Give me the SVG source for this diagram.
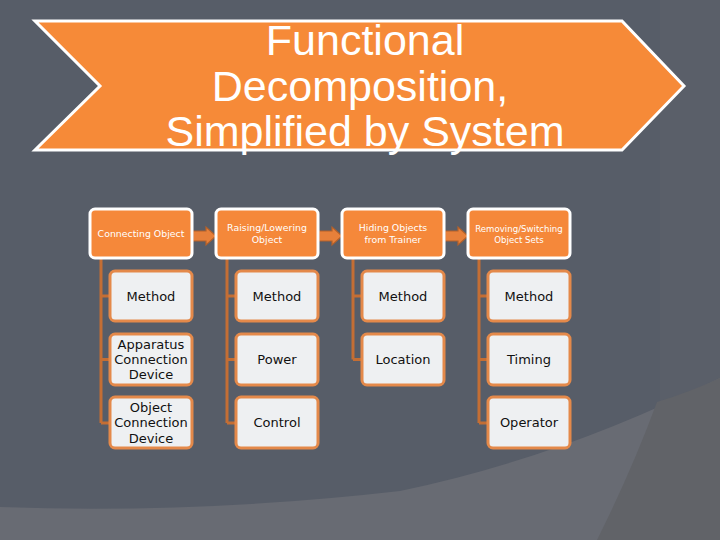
<svg xmlns="http://www.w3.org/2000/svg" width="720" height="540" viewBox="0 0 720 540">
  <style>
    .top { fill: #f5883a; stroke: #ffffff; stroke-width: 3; }
    .sub { fill: #eef0f2; stroke: #e4894a; stroke-width: 3; }
    .ttxt { font-family: "DejaVu Sans", "Liberation Sans", sans-serif; fill: #ffffff; text-anchor: middle; }
    .stxt { font-family: "DejaVu Sans", "Liberation Sans", sans-serif; fill: #111111; font-size: 13px; text-anchor: middle; }
    .conn { stroke: #c46e34; stroke-width: 3; fill: none; }
    .arr { fill: #e7803a; stroke: #b4612a; stroke-width: 1.2; }
  </style>
  <!-- background -->
  <rect x="0" y="0" width="720" height="540" fill="#575d68"/>
  <rect x="660" y="0" width="60" height="540" fill="#5a5f69"/>
  <path d="M0,507 Q200,514 400,491 Q560,458 720,378 L720,540 L0,540 Z" fill="#686b73"/>
  <path d="M657,402 Q632,470 597,540 L720,540 L720,378 Q690,392 657,402 Z" fill="#616368"/>

  <!-- title chevron -->
  <g id="title">
    <polygon points="35,21 622,21 684,86 622,150 35,150 100,86" fill="#f68a38" stroke="#ffffff" stroke-width="3" stroke-linejoin="miter"/>
    <g font-family="Liberation Sans, Arial, sans-serif" font-size="43" fill="#ffffff" text-anchor="middle">
      <text x="365" y="55">Functional</text>
      <text x="360" y="101">Decomposition,</text>
      <text x="365" y="146">Simplified by System</text>
    </g>
  </g>

  <!-- connectors -->
  <g id="connectors">
    <path class="conn" d="M101,258 V423 M101,296 H110 M101,359.5 H110 M101,423 H110"/>
    <path class="conn" d="M227,258 V423 M227,296 H236 M227,359.5 H236 M227,423 H236"/>
    <path class="conn" d="M353,258 V359.5 M353,296 H362 M353,359.5 H362"/>
    <path class="conn" d="M479,258 V423 M479,296 H488 M479,359.5 H488 M479,423 H488"/>
    <polygon class="arr" points="193,231 206,231 206,227 216,236 206,245 206,241 193,241"/>
    <polygon class="arr" points="319,231 332,231 332,227 342,236 332,245 332,241 319,241"/>
    <polygon class="arr" points="445,231 458,231 458,227 468,236 458,245 458,241 445,241"/>
  </g>

  <!-- top nodes -->
  <g id="n-connecting">
    <rect class="top" x="90" y="209" width="102" height="49" rx="5"/>
    <text class="ttxt" x="141" y="237" font-size="9.4">Connecting Object</text>
  </g>
  <g id="n-raising">
    <rect class="top" x="216" y="209" width="102" height="49" rx="5"/>
    <text class="ttxt" x="267" y="231" font-size="9.4">Raising/Lowering</text>
    <text class="ttxt" x="267" y="243" font-size="9.4">Object</text>
  </g>
  <g id="n-hiding">
    <rect class="top" x="342" y="209" width="102" height="49" rx="5"/>
    <text class="ttxt" x="393" y="231" font-size="9.4">Hiding Objects</text>
    <text class="ttxt" x="393" y="243" font-size="9.4">from Trainer</text>
  </g>
  <g id="n-removing">
    <rect class="top" x="468" y="209" width="102" height="49" rx="5"/>
    <text class="ttxt" x="519" y="231.5" font-size="8.6">Removing/Switching</text>
    <text class="ttxt" x="519" y="242.5" font-size="8.6">Object Sets</text>
  </g>

  <!-- column 1 -->
  <g id="c1-method">
    <rect class="sub" x="110" y="271" width="82" height="50" rx="5"/>
    <text class="stxt" x="151" y="301">Method</text>
  </g>
  <g id="c1-apparatus">
    <rect class="sub" x="110" y="334" width="82" height="51" rx="5"/>
    <text class="stxt" x="151" y="349">Apparatus</text>
    <text class="stxt" x="151" y="364">Connection</text>
    <text class="stxt" x="151" y="379">Device</text>
  </g>
  <g id="c1-object">
    <rect class="sub" x="110" y="397" width="82" height="51" rx="5"/>
    <text class="stxt" x="151" y="412">Object</text>
    <text class="stxt" x="151" y="427">Connection</text>
    <text class="stxt" x="151" y="443">Device</text>
  </g>

  <!-- column 2 -->
  <g id="c2-method">
    <rect class="sub" x="236" y="271" width="82" height="50" rx="5"/>
    <text class="stxt" x="277" y="301">Method</text>
  </g>
  <g id="c2-power">
    <rect class="sub" x="236" y="334" width="82" height="51" rx="5"/>
    <text class="stxt" x="277" y="364">Power</text>
  </g>
  <g id="c2-control">
    <rect class="sub" x="236" y="397" width="82" height="51" rx="5"/>
    <text class="stxt" x="277" y="427">Control</text>
  </g>

  <!-- column 3 -->
  <g id="c3-method">
    <rect class="sub" x="362" y="271" width="82" height="50" rx="5"/>
    <text class="stxt" x="403" y="301">Method</text>
  </g>
  <g id="c3-location">
    <rect class="sub" x="362" y="334" width="82" height="51" rx="5"/>
    <text class="stxt" x="403" y="364">Location</text>
  </g>

  <!-- column 4 -->
  <g id="c4-method">
    <rect class="sub" x="488" y="271" width="82" height="50" rx="5"/>
    <text class="stxt" x="529" y="301">Method</text>
  </g>
  <g id="c4-timing">
    <rect class="sub" x="488" y="334" width="82" height="51" rx="5"/>
    <text class="stxt" x="529" y="364">Timing</text>
  </g>
  <g id="c4-operator">
    <rect class="sub" x="488" y="397" width="82" height="51" rx="5"/>
    <text class="stxt" x="529" y="427">Operator</text>
  </g>
</svg>
